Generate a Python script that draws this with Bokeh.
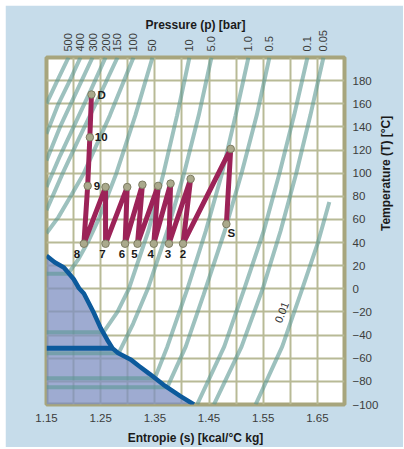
import math
from bokeh.plotting import figure
from bokeh.models import (LinearAxis, FixedTicker, PrintfTickFormatter, Range1d,
                          Label)
from bokeh.core.properties import value
from bokeh.embed import file_html
from bokeh.resources import INLINE

# ---------------- data ----------------
# isobars: entropy s [kcal/°C kg] and temperature T [°C]
pressure_labels = ["500", "400", "300", "200", "150", "100", "50", "10",
                   "5.0", "1.0", "0.5", "0.1", "0.05", "0.01"]
isobar_s = [
    [1.150, 1.170, 1.1906],                                      # 500
    [1.150, 1.172, 1.193, 1.2127],                               # 400
    [1.150, 1.175, 1.205, 1.2349],                               # 300
    [1.150, 1.175, 1.205, 1.232, 1.2589],                        # 200
    [1.150, 1.180, 1.210, 1.246, 1.281],                         # 150
    [1.150, 1.172, 1.197, 1.219, 1.267, 1.3105],                 # 100
    [1.150, 1.190, 1.208, 1.226, 1.246, 1.279, 1.314, 1.3456],   # 50
    [1.150, 1.255, 1.281, 1.302, 1.338, 1.366, 1.391, 1.4138],   # 10
    [1.150, 1.283, 1.310, 1.337, 1.373, 1.404, 1.431, 1.4544],   # 5.0
    [1.150, 1.350, 1.373, 1.410, 1.444, 1.474, 1.499, 1.5227],   # 1.0
    [1.150, 1.373, 1.407, 1.440, 1.479, 1.510, 1.538, 1.5614],   # 0.5
    [1.428, 1.478, 1.515, 1.551, 1.580, 1.607, 1.6316],          # 0.1
    [1.459, 1.510, 1.549, 1.582, 1.611, 1.637, 1.6611],          # 0.05
    [1.536, 1.585, 1.622, 1.651, 1.672],                         # 0.01
]
isobar_T = [
    [160, 180, 200],
    [134, 160, 180, 200],
    [111, 140, 170, 200],
    [88, 115, 145, 172, 200],
    [68, 100, 130, 165, 200],
    [48, 62, 82, 100, 150, 200],
    [13.1, 13.1, 25, 40, 60, 100, 150, 200],
    [-37.6, -37.6, -20, 0, 50, 100, 150, 200],
    [-55.7, -55.7, -30, 0, 50, 100, 150, 200],
    [-77.2, -77.2, -50, 0, 50, 100, 150, 200],
    [-85, -85, -50, -5, 50, 100, 150, 200],
    [-100, -50, 0, 50, 100, 150, 200],
    [-100, -50, 0, 50, 100, 150, 200],
    [-100, -50, 0, 40, 75],
]

# saturation (dew / sublimation) curve
sat_s = [1.150, 1.165, 1.182, 1.200, 1.210, 1.219, 1.237, 1.250, 1.262,
         1.272, 1.282, 1.305, 1.320, 1.340, 1.366, 1.397, 1.422]
sat_T = [28.5, 23.0, 18.5, 8.5, 0.5, -4.0, -20.5, -34.0, -44.0,
         -51.5, -55.5, -61.0, -66.5, -73.5, -83.0, -92.7, -100.0]

# triple-point line
triple_s = [1.150, 1.272]
triple_T = [-51.4, -51.4]

# compression path
path_names = ["S", "", "2", "", "3", "", "4", "", "5", "", "6", "", "7", "",
              "8", "9", "10", "D"]
path_s = [1.482, 1.490, 1.402, 1.416, 1.376, 1.379, 1.348, 1.356, 1.318,
          1.327, 1.295, 1.299, 1.259, 1.259, 1.219, 1.226, 1.230, 1.233]
path_T = [56, 121, 39, 95, 39, 91, 39, 89, 39, 90, 39, 88, 39, 88, 39, 89,
          131, 168]

x_ticks = [1.15, 1.25, 1.35, 1.45, 1.55, 1.65]
x_grid = [1.20, 1.25, 1.30, 1.35, 1.40, 1.45, 1.50, 1.55, 1.60, 1.65]
y_ticks = [-100, -80, -60, -40, -20, 0, 20, 40, 60, 80, 100, 120, 140, 160, 180]
y_grid = [-80, -60, -40, -20, 0, 20, 40, 60, 80, 100, 120, 140, 160, 180]

# ---------------- styles ----------------
FONT = "Liberation Sans"
BG = "#c6dcea"
FRAME = "#a7a57d"
GRID = "#b8ba96"
ISO = "#5b9893"
SAT = "#0c5a9c"
PATH = "#9c2358"
T_TITLE = "Temperature (T) [°C]"

label_style = {  # name: (x_offset, y_offset, align, baseline)
    "S": (5, 9, "center", "middle"),
    "2": (0, 10, "center", "middle"),
    "3": (-1, 10, "center", "middle"),
    "4": (-3, 10, "center", "middle"),
    "5": (-3, 10, "center", "middle"),
    "6": (-3, 10, "center", "middle"),
    "7": (-3, 10, "center", "middle"),
    "8": (-7, 10, "center", "middle"),
    "9": (6, 0, "left", "middle"),
    "10": (5, 0, "left", "middle"),
    "D": (6, 0, "left", "middle"),
}

p = figure(frame_width=298, frame_height=347,
           x_range=Range1d(1.15, 1.70), y_range=Range1d(-100, 200),
           output_backend="svg", toolbar_location=None,
           x_axis_location="below", y_axis_location="right",
           min_border_left=41, min_border_right=55,
           min_border_top=52, min_border_bottom=40,
           margin=(5, 5, 5, 5),
           background_fill_color="white", border_fill_color=BG)
p.outline_line_color = FRAME
p.outline_line_width = 4

p.xgrid.ticker = FixedTicker(ticks=x_grid)
p.ygrid.ticker = FixedTicker(ticks=y_grid)
for g in (p.xgrid, p.ygrid):
    g.grid_line_color = GRID
    g.grid_line_width = 2


def style_axis(ax, standoff, size="11.5px"):
    ax.axis_line_color = None
    ax.major_tick_line_color = None
    ax.minor_tick_line_color = None
    ax.major_tick_in = 0
    ax.major_tick_out = 0
    ax.minor_tick_out = 0
    ax.major_label_standoff = standoff
    ax.major_label_text_font = FONT
    ax.major_label_text_font_size = size
    ax.major_label_text_color = "#3c3c3c"
    ax.axis_label_text_font = FONT
    ax.axis_label_text_font_size = "12px"
    ax.axis_label_text_font_style = "bold"
    ax.axis_label_text_color = "#1a1a1a"


xa = p.xaxis[0]
xa.ticker = FixedTicker(ticks=x_ticks)
xa.formatter = PrintfTickFormatter(format="%.2f")
xa.axis_label = "Entropie (s) [kcal/°C kg]"
style_axis(xa, 9)
xa.axis_label_standoff = 6

ya = p.yaxis[0]
ya.ticker = FixedTicker(ticks=y_ticks)
style_axis(ya, 8)
ya.axis_label_standoff = 5
try:
    ya.axis_label_orientation = math.pi / 2
    ya.axis_label = T_TITLE
except Exception:
    p.add_layout(Label(x=346, y=173, x_units="screen", y_units="screen",
                       text=T_TITLE, angle=math.pi / 2, text_align="center",
                       text_baseline="middle", text_font=FONT,
                       text_font_size="12px", text_font_style="bold",
                       text_color="#1a1a1a"))

top_ticks = [row[-1] for row in isobar_s[:13]]
overrides = {t: lab for t, lab in zip(top_ticks, pressure_labels[:13])}
ta = LinearAxis(ticker=FixedTicker(ticks=top_ticks),
                major_label_overrides=overrides,
                major_label_orientation="vertical",
                axis_label="Pressure (p) [bar]")
style_axis(ta, 6, "11px")
ta.axis_label_standoff = -5
p.add_layout(ta, "above")

# two-phase region fill
p.patch(sat_s + [sat_s[0]], sat_T + [-100], fill_color="#7e8fc1",
        fill_alpha=0.75, line_color=None)

# isobars
p.multi_line(xs=isobar_s, ys=isobar_T, line_color=ISO, line_alpha=0.6,
             line_width=4)

# saturation curve and triple line
p.line(sat_s, sat_T, line_color=SAT, line_width=4.5)
p.line(triple_s, triple_T, line_color=SAT, line_width=5)

# isobar label
p.text(x=[1.584], y=[-20.4], text=[pressure_labels[13]], angle=1.2,
       text_align="center", text_baseline="middle",
       text_font=value(FONT), text_font_size="11px", text_color="#333333")

# compression path
p.line(path_s, path_T, line_color=PATH, line_width=5, line_join="round")
p.scatter(path_s, path_T, size=7.5, fill_color="#aaa98c",
          line_color="#7d7c62", line_width=1)

for name, s_val, t_val in zip(path_names, path_s, path_T):
    if not name:
        continue
    xo, yo, al, bl = label_style[name]
    p.text(x=[s_val], y=[t_val], text=[name], x_offset=xo, y_offset=yo,
           text_align=al, text_baseline=bl, text_font=value(FONT),
           text_font_size="11.5px", text_font_style="bold",
           text_color="#1a1a1a")

open("out.html", "w").write(file_html(p, INLINE))
